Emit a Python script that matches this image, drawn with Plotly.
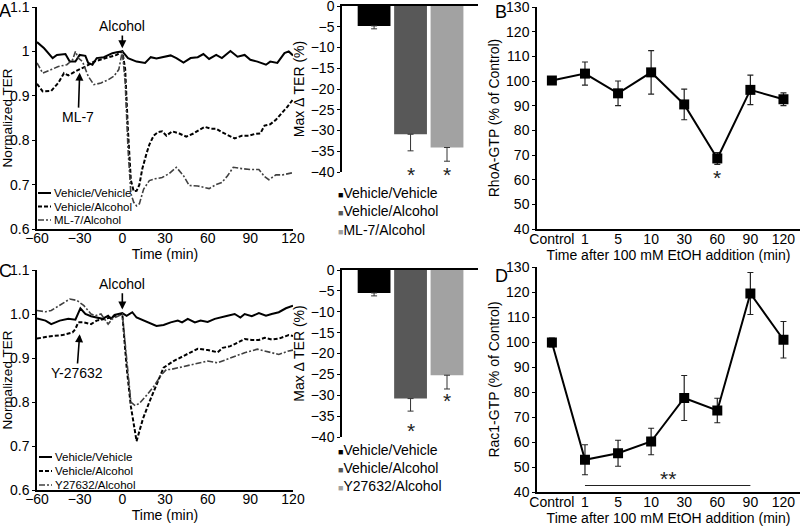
import plotly.graph_objects as go

W, H = 800, 526
FONT = "Arial, Liberation Sans, Helvetica, sans-serif"

# ---- Panel A: normalized TER, ML-7 pretreatment ----
A_VV_T = [-60, -55, -49, -46, -40, -37, -33, -30, -26, -24, -21, -18, -13, -7, -4, 0, 4, 10, 16, 20, 24,
          29, 34, 38, 43, 48, 53, 57, 61, 66, 70, 76, 81, 86, 90, 95, 101, 104, 109, 114, 117, 120]
A_VV_Y = [1.021, 1.007, 0.985, 0.992, 0.994, 0.977, 0.977, 0.992, 0.99, 0.974, 0.97, 0.985, 0.987, 0.996,
          0.998, 1.0, 0.985, 0.977, 0.974, 0.987, 0.984, 0.987, 0.991, 0.985, 0.975, 0.985, 0.987, 0.994,
          0.983, 0.992, 0.985, 1.001, 0.988, 0.992, 0.981, 0.977, 0.97, 0.977, 0.974, 0.996, 1.0, 0.991]
A_VA_T = [-60, -56, -50, -45, -41, -38, -33, -30, -26, -20, -14, -8, -4, 0, 2, 4, 6, 8, 10, 12, 14, 17,
          19, 22, 25, 28, 31, 35, 40, 45, 50, 54, 58, 62, 66, 70, 75, 79, 84, 89, 93, 97, 100, 104, 108,
          112, 116, 120]
A_VA_Y = [0.927, 0.91, 0.911, 0.929, 0.951, 0.946, 0.955, 0.959, 0.966, 0.977, 0.983, 0.989, 0.992, 1.0,
          0.96, 0.82, 0.71, 0.685, 0.686, 0.7, 0.735, 0.77, 0.79, 0.81, 0.818, 0.82, 0.81, 0.82, 0.815,
          0.808, 0.815, 0.823, 0.83, 0.826, 0.826, 0.818, 0.81, 0.804, 0.81, 0.81, 0.814, 0.815, 0.833,
          0.836, 0.846, 0.86, 0.875, 0.892]
A_ML_T = [-60, -56, -50, -45, -39, -35, -33, -31, -28, -24, -20, -15, -10, -6, -2.5, 0, 2, 4, 6, 8, 10,
          12, 15, 19, 23, 28, 33, 38, 43, 47, 53, 61, 66, 70, 74, 78, 84, 90, 96, 100, 103, 108, 113, 120]
A_ML_Y = [0.974, 0.951, 0.959, 0.966, 0.97, 0.981, 1.0, 0.985, 0.977, 0.944, 0.925, 0.929, 0.936, 0.944,
          0.959, 1.0, 0.93, 0.78, 0.68, 0.66, 0.652, 0.657, 0.69, 0.709, 0.713, 0.716, 0.725, 0.739, 0.72,
          0.698, 0.697, 0.691, 0.7, 0.705, 0.72, 0.739, 0.736, 0.734, 0.734, 0.718, 0.711, 0.722, 0.722,
          0.727]
A_LEGEND = ["Vehicle/Vehicle", "Vehicle/Alcohol", "ML-7/Alcohol"]
A_YTICKS = ["0.6", "0.7", "0.8", "0.9", "1", "1.1"]

# ---- Panel C: normalized TER, Y-27632 pretreatment ----
C_VV_T = [-60, -54, -50, -44, -38, -33, -29.5, -26, -22, -18, -14, -10, -8, -5.5, 0, 3, 7, 10, 15, 20,
          24, 29, 34, 39, 42, 46, 51, 55, 60, 65, 70, 74, 79, 83, 86, 91, 96, 101, 105, 110, 115, 120]
C_VV_Y = [0.99, 0.985, 0.977, 0.985, 0.989, 0.987, 1.013, 1.0, 0.995, 0.992, 0.989, 0.996, 0.989, 0.998,
          1.002, 0.996, 1.004, 0.992, 0.985, 0.977, 0.973, 0.975, 0.981, 0.985, 0.981, 0.989, 0.981, 0.985,
          0.982, 0.989, 0.992, 0.996, 1.0, 0.992, 1.0, 0.995, 1.002, 0.996, 1.0, 1.004, 1.013, 1.019]
C_VA_T = [-60, -52, -42, -35, -33, -31, -27, -22, -18, -13, -8, -3, 0, 3, 6, 10, 14.5, 19, 24, 29, 36,
          43, 48, 53, 60, 67, 70.5, 76, 81, 86, 91, 96, 100, 105, 110, 117, 120]
C_VA_Y = [0.944, 0.949, 0.952, 0.958, 0.966, 0.981, 0.981, 0.977, 0.985, 0.989, 0.992, 0.998, 1.0, 0.88,
          0.79, 0.711, 0.762, 0.8, 0.838, 0.878, 0.893, 0.904, 0.913, 0.921, 0.918, 0.913, 0.923, 0.927,
          0.935, 0.943, 0.941, 0.941, 0.946, 0.942, 0.944, 0.952, 0.95]
C_Y_T = [-60, -54, -50, -43, -37, -32, -27, -22, -19, -15, -10, -7, -3, 0, 3, 6, 9, 12, 17, 22, 27, 31,
         34, 43, 53, 60, 67, 76, 86, 95, 100, 110, 117, 120]
C_Y_Y = [1.008, 1.005, 1.008, 1.023, 1.034, 1.031, 1.019, 1.0, 0.996, 1.0, 0.977, 0.989, 0.996, 1.0, 0.9,
         0.8, 0.792, 0.797, 0.815, 0.835, 0.86, 0.874, 0.874, 0.881, 0.889, 0.893, 0.889, 0.9, 0.912,
         0.92, 0.916, 0.908, 0.916, 0.918]
C_LEGEND = ["Vehicle/Vehicle", "Vehicle/Alcohol", "Y27632/Alcohol"]
C_YTICKS = ["0.6", "0.7", "0.8", "0.9", "1.0", "1.1"]

TIME_TICKS = [-60, -30, 0, 30, 60, 90, 120]
TER_TICKS = [0.6, 0.7, 0.8, 0.9, 1.0, 1.1]

# ---- Max delta TER bars ----
BAR_A_NAMES = ["Vehicle/Vehicle", "Vehicle/Alcohol", "ML-7/Alcohol"]
BAR_A_VALS = [-4.8, -30.9, -34.1]
BAR_A_ERR = [0.7, 4.0, 3.3]
BAR_A_STAR = [None, -39.8, -39.8]
BAR_C_NAMES = ["Vehicle/Vehicle", "Vehicle/Alcohol", "Y27632/Alcohol"]
BAR_C_VALS = [-5.5, -30.8, -25.2]
BAR_C_ERR = [0.7, 3.0, 3.3]
BAR_C_STAR = [None, -37.7, -30.6]
BAR_COLORS = ["#000000", "#585858", "#a2a2a2"]
BAR_TICKS = [0, -5, -10, -15, -20, -25, -30, -35, -40]

# ---- Panels B and D: GTPase activity ----
TIME_LABELS = ["Control", "1", "5", "10", "30", "60", "90", "120"]
RHOA = [100.2, 103.0, 95.0, 103.5, 90.5, 68.6, 96.4, 92.6]
RHOA_ERR = [1.5, 4.7, 5.0, 8.8, 6.2, 2.4, 6.0, 2.6]
RHOA_STAR = ("60", 62)
RAC1 = [99.8, 52.9, 55.5, 60.2, 77.6, 72.6, 119.4, 100.9]
RAC1_ERR = [1.8, 6.0, 5.2, 5.3, 9.0, 4.9, 8.4, 7.3]
RAC1_SIG = (["1", "90"], 42.6)
GTP_TICKS = [40, 50, 60, 70, 80, 90, 100, 110, 120, 130]

LINE_STYLES = [("solid", "#000000", 2.0), ("4px,2px", "#000000", 2.0), ("6px,2px,2px,2px", "#404040", 1.6)]
STAR_FONT = dict(size=21, color="#222", family=FONT)
STAR_SHIFT = -3  # the asterisk glyph sits high in its text box


def px(x):
    return x / W


def py(y):
    return 1 - y / H


def axis_base(**kw):
    d = dict(showline=True, linecolor="black", linewidth=1.5, showgrid=False, zeroline=False,
             automargin=False, ticks="outside", ticklen=3, tickcolor="black", tickwidth=1,
             ticklabeloverflow="allow",
             tickfont=dict(size=14, color="black", family=FONT),
             title_font=dict(size=14, color="black", family=FONT))
    d.update(kw)
    return d


fig = go.Figure()

# TER time courses
for xa, ya, series in [
    ("x", "y", [(A_VV_T, A_VV_Y), (A_VA_T, A_VA_Y), (A_ML_T, A_ML_Y)]),
    ("x4", "y4", [(C_VV_T, C_VV_Y), (C_VA_T, C_VA_Y), (C_Y_T, C_Y_Y)]),
]:
    for (t, v), (dash, color, width) in zip(series, LINE_STYLES):
        fig.add_trace(go.Scatter(x=t, y=v, mode="lines", xaxis=xa, yaxis=ya,
                                 line=dict(color=color, width=width, dash=dash)))

# bar panels
for xa, ya, names, vals, errs, stars in [
    ("x2", "y2", BAR_A_NAMES, BAR_A_VALS, BAR_A_ERR, BAR_A_STAR),
    ("x5", "y5", BAR_C_NAMES, BAR_C_VALS, BAR_C_ERR, BAR_C_STAR),
]:
    fig.add_trace(go.Bar(x=list(range(len(names))), y=vals, xaxis=xa, yaxis=ya, width=0.9,
                         marker=dict(color=BAR_COLORS, line=dict(width=0)),
                         error_y=dict(type="data", symmetric=False, array=[0] * len(vals),
                                      arrayminus=errs, color="#333333", thickness=1, width=3)))
    for i, s in enumerate(stars):
        if s is not None:
            fig.add_annotation(x=i, y=s, xref=xa, yref=ya, text="*", showarrow=False,
                               font=STAR_FONT, yshift=STAR_SHIFT)

# GTPase panels
for xa, ya, vals, errs in [("x3", "y3", RHOA, RHOA_ERR), ("x6", "y6", RAC1, RAC1_ERR)]:
    fig.add_trace(go.Scatter(x=TIME_LABELS, y=vals, xaxis=xa, yaxis=ya, mode="lines+markers",
                             line=dict(color="black", width=2),
                             marker=dict(symbol="square", size=10, color="black"),
                             error_y=dict(type="data", array=errs, color="#222", thickness=1.2, width=3)))

fig.add_annotation(x=TIME_LABELS.index(RHOA_STAR[0]), y=RHOA_STAR[1], xref="x3", yref="y3", text="*",
                   showarrow=False, font=STAR_FONT, yshift=STAR_SHIFT)
fig.add_trace(go.Scatter(x=RAC1_SIG[0], y=[RAC1_SIG[1]] * 2, xaxis="x6", yaxis="y6", mode="lines",
                         line=dict(color="#222", width=1)))
sig_mid = (TIME_LABELS.index(RAC1_SIG[0][0]) + TIME_LABELS.index(RAC1_SIG[0][1])) / 2
fig.add_annotation(x=sig_mid, y=RAC1_SIG[1] + 4, xref="x6", yref="y6", text="**", showarrow=False,
                   font=STAR_FONT, yshift=STAR_SHIFT)

# arrows for treatments
for xa, ya, lab, tail, tip in [
    ("x", "y", "Alcohol", (0, 1.057), (0, 1.007)),
    ("x", "y", "ML-7", (-31, 0.852), (-30, 0.952)),
    ("x4", "y4", "Alcohol", (0, 1.069), (0, 1.01)),
    ("x4", "y4", "Y-27632", (-32, 0.866), (-30, 0.954)),
]:
    fig.add_annotation(x=tip[0], y=tip[1], ax=tail[0], ay=tail[1], xref=xa, yref=ya, axref=xa, ayref=ya,
                       text=lab, showarrow=True, arrowhead=2, arrowsize=1, arrowwidth=1.6,
                       arrowcolor="black", font=dict(size=14, color="black", family=FONT))

# line legends
for x0, rows, names in [(38, [193, 206.5, 220], A_LEGEND), (39, [457, 471, 485], C_LEGEND)]:
    for name, yy, (dash, color, width) in zip(names, rows, LINE_STYLES):
        fig.add_shape(type="line", xref="paper", yref="paper", x0=px(x0), x1=px(x0 + 13),
                      y0=py(yy), y1=py(yy), line=dict(color=color, width=width, dash=dash))
        fig.add_annotation(xref="paper", yref="paper", x=px(x0 + 14), y=py(yy), text=name,
                           showarrow=False, xanchor="left", yanchor="middle",
                           font=dict(size=11.5, color="black", family=FONT))

# bar legends
for x0, rows, names in [(336, [193, 211.5, 230], BAR_A_NAMES), (336, [450, 468, 486], BAR_C_NAMES)]:
    for name, yy, col in zip(names, rows, BAR_COLORS):
        fig.add_annotation(xref="paper", yref="paper", x=px(x0), y=py(yy),
                           text=f"<span style='color:{col};font-size:9px'>■</span>{name}",
                           showarrow=False, xanchor="left", yanchor="middle",
                           font=dict(size=14, color="black", family=FONT))

# panel letters
for lab, x0, y0 in [("A", 5, 11), ("B", 501, 12), ("C", 5, 271), ("D", 502, 276)]:
    fig.add_annotation(xref="paper", yref="paper", x=px(x0), y=py(y0), text=lab, showarrow=False,
                       xanchor="center", yanchor="middle",
                       font=dict(size=18, color="black", family=FONT))

ter_x = dict(range=[-60, 120], tickvals=TIME_TICKS, ticks="", ticklabelstandoff=-5,
             title=dict(text="Time (min)", standoff=2))
bar_x = dict(range=[-0.88, 2.85], side="top", showticklabels=False, ticks="")
gtp_x = dict(type="category", range=[-0.45, 7.5], ticks="", ticklabelstandoff=-4,
             title=dict(text="Time after 100 mM EtOH addition (min)", standoff=3))
ter_ytitle = dict(text="Normalized TER", standoff=3, font=dict(size=13.5))

fig.update_layout(
    width=W, height=H, margin=dict(l=0, r=0, t=0, b=0),
    plot_bgcolor="white", paper_bgcolor="white", showlegend=False,
    font=dict(family=FONT, color="black"),
    xaxis=axis_base(domain=[px(37), px(293)], anchor="y", **ter_x),
    yaxis=axis_base(domain=[py(229), py(7)], anchor="x", range=[0.6, 1.1], tickvals=TER_TICKS,
                    ticktext=A_YTICKS, title=ter_ytitle),
    xaxis2=axis_base(domain=[px(342), px(478)], anchor="y2", **bar_x),
    yaxis2=axis_base(domain=[py(172), py(6)], anchor="x2", range=[-40, 0], tickvals=BAR_TICKS,
                     title=dict(text="Max Δ TER (%)", standoff=3)),
    xaxis3=axis_base(domain=[px(537), px(800)], anchor="y3", **gtp_x),
    yaxis3=axis_base(domain=[py(229), py(7)], anchor="x3", range=[40, 130], tickvals=GTP_TICKS,
                     title=dict(text="RhoA-GTP (% of Control)", standoff=3)),
    xaxis4=axis_base(domain=[px(37), px(293)], anchor="y4", **ter_x),
    yaxis4=axis_base(domain=[py(490), py(270)], anchor="x4", range=[0.6, 1.1], tickvals=TER_TICKS,
                     ticktext=C_YTICKS, title=ter_ytitle),
    xaxis5=axis_base(domain=[px(342), px(478)], anchor="y5", **bar_x),
    yaxis5=axis_base(domain=[py(437), py(270)], anchor="x5", range=[-40, 0], tickvals=BAR_TICKS,
                     title=dict(text="Max Δ TER (%)", standoff=3)),
    xaxis6=axis_base(domain=[px(537), px(800)], anchor="y6", **gtp_x),
    yaxis6=axis_base(domain=[py(492), py(267)], anchor="x6", range=[40, 130], tickvals=GTP_TICKS,
                     title=dict(text="Rac1-GTP (% of Control)", standoff=3)),
)

# the page is exactly the figure: drop the browser's default body margin
fig.write_html("out.html", config={"displayModeBar": False},
               post_script="document.body.style.margin = '0';")
